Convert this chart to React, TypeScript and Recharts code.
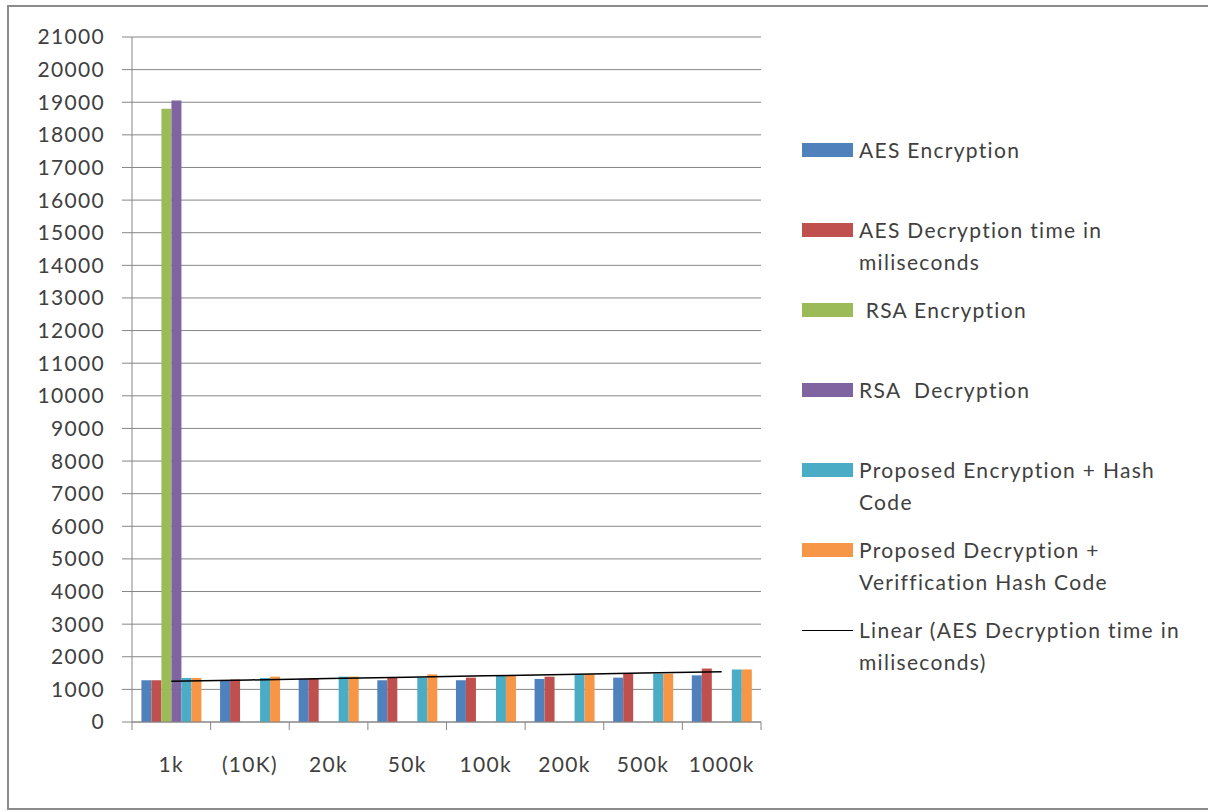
import { ComposedChart, Bar, Line, XAxis, YAxis, CartesianGrid } from "recharts";

const categories = ["1k", "(10K)", "20k", "50k", "100k", "200k", "500k", "1000k"];
const aesEnc = [1280, 1280, 1320, 1280, 1280, 1320, 1360, 1430];
const aesDec = [1280, 1300, 1340, 1370, 1360, 1390, 1480, 1640];
const rsaEnc = [18800, null, null, null, null, null, null, null];
const rsaDec = [19050, null, null, null, null, null, null, null];
const propEnc = [1350, 1350, 1390, 1360, 1410, 1440, 1480, 1610];
const propDec = [1350, 1390, 1390, 1460, 1410, 1460, 1480, 1610];
const yTicks = [0, 1000, 2000, 3000, 4000, 5000, 6000, 7000, 8000, 9000, 10000, 11000, 12000, 13000, 14000, 15000, 16000, 17000, 18000, 19000, 20000, 21000];

// least-squares trend of AES decryption (Excel "Linear" trendline)
const n = aesDec.length;
const mx = (n - 1) / 2;
const my = aesDec.reduce((a, b) => a + b, 0) / n;
const slope = aesDec.reduce((s, v, i) => s + (i - mx) * (v - my), 0) / aesDec.reduce((s, _v, i) => s + (i - mx) ** 2, 0);
const trend = aesDec.map((_v, i) => my + slope * (i - mx));

const data = categories.map((c, i) => ({
  name: c,
  aesEnc: aesEnc[i],
  aesDec: aesDec[i],
  rsaEnc: rsaEnc[i],
  rsaDec: rsaDec[i],
  propEnc: propEnc[i],
  propDec: propDec[i],
  trend: trend[i],
}));

const legendItems = [
  { label: ["AES Encryption"], color: "#4F81BD" },
  { label: ["AES Decryption time in", "miliseconds"], color: "#C0504D" },
  { label: ["\u00a0RSA Encryption"], color: "#9BBB59" },
  { label: ["RSA\u00a0 Decryption"], color: "#8064A2" },
  { label: ["Proposed Encryption + Hash", "Code"], color: "#4BACC6" },
  { label: ["Proposed Decryption +", "Veriffication Hash Code"], color: "#F79646" },
  { label: ["Linear (AES Decryption time in", "miliseconds)"], color: "#000", line: true },
];

const FONT = "Lato, 'Open Sans', sans-serif";
const TEXT = "#404040";
const PLOT_W = 629;
const LS = 1.3;

const ChartLegend = () => (
  <div style={{ fontFamily: FONT, fontSize: 21, color: TEXT, letterSpacing: LS, fontVariantLigatures: "none" }}>
    {legendItems.map((it) => (
      <div key={it.label[0]} style={{ height: 80, position: "relative" }}>
        {it.line ? (
          <div style={{ position: "absolute", left: 0, top: 16, width: 51, height: 1, background: "#000" }} />
        ) : (
          <div style={{ position: "absolute", left: 0, top: 9, width: 51, height: 14, background: it.color }} />
        )}
        <div style={{ position: "absolute", left: 57, top: 0, lineHeight: "32px", whiteSpace: "nowrap" }}>
          {it.label.map((l) => (
            <div key={l}>{l}</div>
          ))}
        </div>
      </div>
    ))}
  </div>
);

const XTick = (props: any) => {
  const { x, y, payload, index } = props;
  const bw = PLOT_W / categories.length;
  return (
    <g>
      <line x1={x - bw / 2} x2={x - bw / 2} y1={y - 8} y2={y} stroke="#868686" />
      {index === categories.length - 1 && <line x1={x + bw / 2} x2={x + bw / 2} y1={y - 8} y2={y} stroke="#868686" />}
      <text x={x} y={y + 42} textAnchor="middle" fill={TEXT} fontSize={21} fontFamily={FONT} letterSpacing={LS}>
        {payload.value}
      </text>
    </g>
  );
};

export default function App() {
  return (
    <div style={{ position: "absolute", left: 0, top: 0, width: 1208, height: 812, background: "#fff", overflow: "hidden" }}>
      <div style={{ position: "absolute", left: 7, top: 5, width: 1220, height: 801, border: "2px solid #8c8c8c" }} />
      <div style={{ position: "absolute", left: 0, top: 0 }}>
        <ComposedChart width={1208} height={812} data={data} margin={{ top: 37, right: 447, bottom: 30, left: 32 }} barCategoryGap="12%" barGap={0}>
          <CartesianGrid vertical={false} stroke="#868686" strokeWidth={1} />
          <XAxis dataKey="name" stroke="#868686" tickLine={false} tickSize={8} tickMargin={0} height={60} tick={<XTick />} interval={0} />
          <YAxis
            domain={[0, 21000]}
            ticks={yTicks}
            interval={0}
            width={100}
            stroke="#868686"
            tickSize={10}
            tickMargin={17}
            tick={{ fill: TEXT, fontSize: 21, fontFamily: FONT, letterSpacing: LS }}
          />
          <Bar dataKey="aesEnc" fill="#4F81BD" isAnimationActive={false} />
          <Bar dataKey="aesDec" fill="#C0504D" isAnimationActive={false} />
          <Bar dataKey="rsaEnc" fill="#9BBB59" isAnimationActive={false} />
          <Bar dataKey="rsaDec" fill="#8064A2" isAnimationActive={false} />
          <Bar dataKey="propEnc" fill="#4BACC6" isAnimationActive={false} />
          <Bar dataKey="propDec" fill="#F79646" isAnimationActive={false} />
          <Line dataKey="trend" stroke="#000" strokeWidth={1.5} dot={false} isAnimationActive={false} />
        </ComposedChart>
      </div>
      <div style={{ position: "absolute", left: 802, top: 134, width: 406 }}>
        <ChartLegend />
      </div>
    </div>
  );
}
